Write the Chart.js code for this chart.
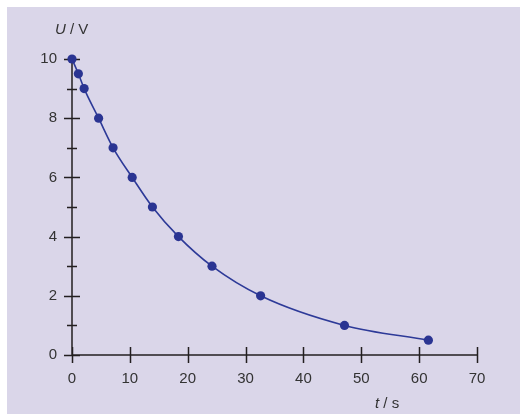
<!DOCTYPE html>
<html>
<head>
<meta charset="utf-8">
<script src="https://cdn.jsdelivr.net/npm/chart.js@4"></script>
<style>
  html, body { margin: 0; padding: 0; background: #fff; }
  #wrap { width: 520px; height: 414px; position: relative; }
</style>
</head>
<body>
<div id="wrap"><canvas id="chart" width="520" height="414"></canvas></div>
<script>
// measured points: time in s, voltage in V
const times = [0, 1.1, 2.1, 4.6, 7.1, 10.4, 13.9, 18.4, 24.2, 32.6, 47.1, 61.6];
const volts = [10, 9.5, 9, 8, 7, 6, 5, 4, 3, 2, 1, 0.5];
const xTicks = [0, 10, 20, 30, 40, 50, 60, 70];
const yTicks = [0, 2, 4, 6, 8, 10];
const yMinorTicks = [1, 3, 5, 7, 9];

const points = times.map((t, i) => ({ x: t, y: volts[i] }));
const font = '"Liberation Sans", Arial, sans-serif';

const panelPlugin = {
  id: 'panel',
  beforeDraw(chart) {
    const c = chart.ctx;
    c.save();
    c.fillStyle = '#dad6e9';
    c.fillRect(7, 7, chart.width - 7, chart.height - 7);
    c.restore();
  }
};

const axesPlugin = {
  id: 'axes',
  beforeDatasetsDraw(chart) {
    const c = chart.ctx;
    const xs = chart.scales.x, ys = chart.scales.y;
    const x0 = xs.getPixelForValue(0), y0 = ys.getPixelForValue(0);
    c.save();
    c.strokeStyle = '#231f20';
    c.lineWidth = 1.5;
    c.beginPath();
    c.moveTo(x0, ys.getPixelForValue(10));
    c.lineTo(x0, y0);
    c.lineTo(xs.getPixelForValue(70), y0);
    // x ticks cross the axis
    xTicks.forEach(v => {
      const px = Math.round(xs.getPixelForValue(v)) + 0.5;
      c.moveTo(px, y0 - 8);
      c.lineTo(px, y0 + 8);
    });
    yTicks.forEach(v => {
      const py = Math.round(ys.getPixelForValue(v)) + 0.5;
      c.moveTo(x0 - 8, py);
      c.lineTo(x0 + 8, py);
    });
    yMinorTicks.forEach(v => {
      const py = Math.round(ys.getPixelForValue(v)) + 0.5;
      c.moveTo(x0 - 5, py);
      c.lineTo(x0 + 5, py);
    });
    c.stroke();

    // axis titles, with italic quantity symbol
    c.fillStyle = '#333';
    c.textBaseline = 'alphabetic';
    const drawTitle = (sym, rest, x, y) => {
      c.font = 'italic 15px ' + font;
      c.fillText(sym, x, y);
      const w = c.measureText(sym).width;
      c.font = '15px ' + font;
      c.fillText(rest, x + w, y);
    };
    drawTitle('U', ' / V', 55, 34);
    drawTitle('t', ' / s', 375, 408);
    c.restore();
  }
};

new Chart(document.getElementById('chart'), {
  type: 'scatter',
  data: {
    datasets: [{
      data: points,
      showLine: true,
      cubicInterpolationMode: 'monotone',
      borderColor: '#2d3a98',
      borderWidth: 1.6,
      backgroundColor: '#2a3492',
      pointRadius: 4.6,
      pointBorderWidth: 0,
      clip: false
    }]
  },
  options: {
    responsive: false,
    animation: false,
    layout: { padding: { top: 59, right: 43, left: 0, bottom: 0 } },
    plugins: { legend: { display: false }, tooltip: { enabled: false } },
    scales: {
      x: {
        type: 'linear',
        min: 0, max: 70,
        afterFit(scale) { scale.height = 59; },
        grid: { display: false, drawTicks: false },
        border: { display: false },
        ticks: {
          stepSize: 10,
          padding: 15,
          color: '#333',
          font: { family: font, size: 15 }
        }
      },
      y: {
        type: 'linear',
        min: 0, max: 10,
        afterFit(scale) { scale.width = 72; },
        grid: { display: false, drawTicks: false },
        border: { display: false },
        ticks: {
          stepSize: 2,
          padding: 15,
          color: '#333',
          font: { family: font, size: 15 }
        }
      }
    }
  },
  plugins: [panelPlugin, axesPlugin]
});
</script>
</body>
</html>
